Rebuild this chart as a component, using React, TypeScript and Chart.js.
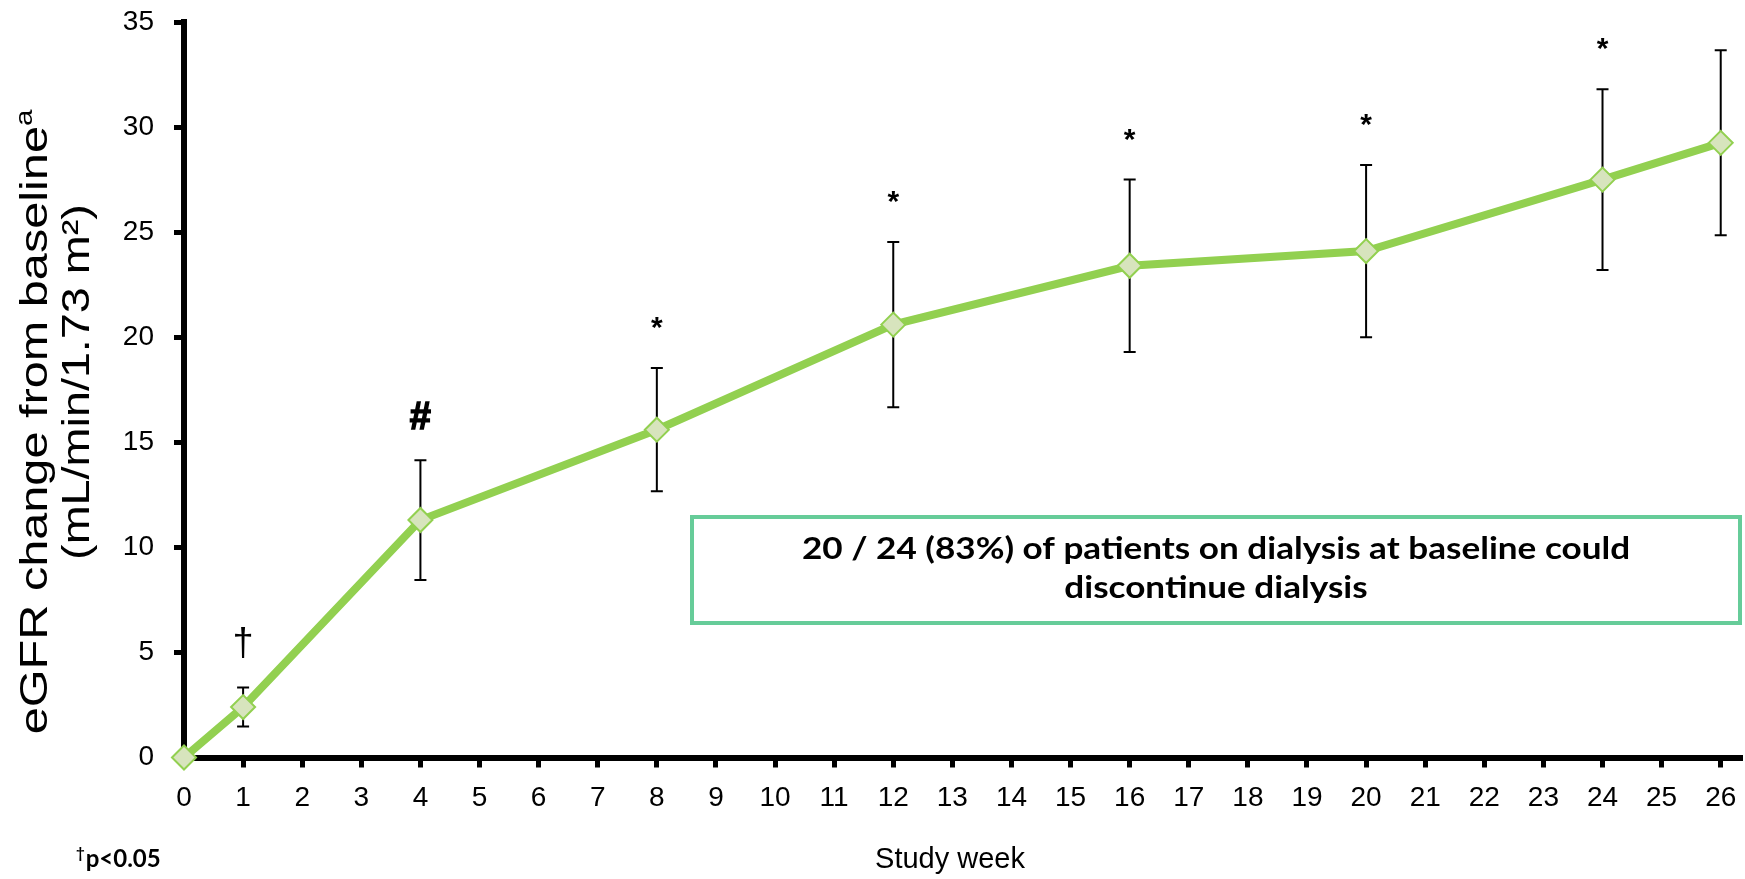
import React, { useEffect, useRef } from 'react';
import { Chart, registerables } from 'chart.js';

Chart.register(...registerables);

// ---- Data ----
const weeks = [0, 1, 4, 8, 12, 16, 20, 24, 26];
const egfrChange = [0, 2.4, 11.3, 15.6, 20.6, 23.4, 24.1, 27.5, 29.25];
const errorSD = [0, 0.93, 2.85, 2.93, 3.93, 4.1, 4.1, 4.3, 4.4];
const significance = ['', '†', '#', '*', '*', '*', '*', '*', ''];
const xTickValues = [0, 1, 2, 3, 4, 5, 6, 7, 8, 9, 10, 11, 12, 13, 14, 15, 16, 17, 18, 19, 20, 21, 22, 23, 24, 25, 26];
const yTickValues = [0, 5, 10, 15, 20, 25, 30, 35];
const yTitleLine1 = 'eGFR change from baseline';
const yTitleSup = 'a';
const yTitleLine2 = '(mL/min/1.73 m²)';
const xTitle = 'Study week';
const footnoteMark = '†';
const footnoteText = 'p<0.05';
const boxLines = ['20 / 24 (83%) of patients on dialysis at baseline could', 'discontinue dialysis'];

const SANS = '"Liberation Sans", Arial, sans-serif';
const HUMAN = 'Lato, "Open Sans", sans-serif';

const overlayPlugin = {
  id: 'overlay',
  beforeDatasetsDraw(chart: any) {
    const { ctx, scales } = chart;
    const xs = scales.x;
    const ys = scales.y;
    ctx.save();
    ctx.strokeStyle = '#000';
    ctx.lineWidth = 2;
    weeks.forEach((w, i) => {
      const e = errorSD[i];
      if (!e) return;
      const px = xs.getPixelForValue(w);
      const top = ys.getPixelForValue(egfrChange[i] + e);
      const bot = ys.getPixelForValue(egfrChange[i] - e);
      ctx.beginPath();
      ctx.moveTo(px, top);
      ctx.lineTo(px, bot);
      ctx.moveTo(px - 6, top);
      ctx.lineTo(px + 6, top);
      ctx.moveTo(px - 6, bot);
      ctx.lineTo(px + 6, bot);
      ctx.stroke();
    });
    ctx.restore();
  },
  afterDraw(chart: any) {
    const { ctx, scales } = chart;
    const xs = scales.x;
    const ys = scales.y;
    ctx.save();
    // significance symbols
    weeks.forEach((w, i) => {
      const s = significance[i];
      if (!s) return;
      let font = `bold 30px ${SANS}`;
      if (s === '†') font = `38px ${SANS}`;
      if (s === '#') font = `bold 38px ${SANS}`;
      ctx.font = font;
      ctx.fillStyle = '#000';
      ctx.strokeStyle = '#000';
      ctx.textAlign = 'center';
      ctx.textBaseline = 'alphabetic';
      const m = ctx.measureText(s);
      const target = ys.getPixelForValue(egfrChange[i] + errorSD[i]) - 45;
      const by = target + (m.actualBoundingBoxAscent - m.actualBoundingBoxDescent) / 2;
      const px = xs.getPixelForValue(w);
      ctx.fillText(s, px, by);
      if (s === '#') {
        ctx.lineWidth = 1.5;
        ctx.strokeText(s, px, by);
      }
    });

    // y-axis title (two lines, rotated)
    ctx.fillStyle = '#000';
    ctx.textBaseline = 'middle';
    ctx.textAlign = 'left';
    // line 1
    ctx.save();
    ctx.translate(37, 422);
    ctx.rotate(-Math.PI / 2);
    ctx.scale(1.28, 1);
    ctx.font = `38px ${SANS}`;
    const w1 = ctx.measureText(yTitleLine1).width;
    ctx.font = `23px ${SANS}`;
    const ws = ctx.measureText(yTitleSup).width;
    const start1 = -(w1 + ws) / 2;
    ctx.font = `38px ${SANS}`;
    ctx.fillText(yTitleLine1, start1, 0);
    ctx.font = `23px ${SANS}`;
    ctx.fillText(yTitleSup, start1 + w1, -11);
    ctx.restore();
    // line 2
    ctx.save();
    ctx.translate(79, 382);
    ctx.rotate(-Math.PI / 2);
    ctx.scale(1.23, 1);
    ctx.font = `38px ${SANS}`;
    ctx.textAlign = 'center';
    ctx.fillText(yTitleLine2, 0, 0);
    ctx.restore();

    // x-axis title
    ctx.font = `29px ${SANS}`;
    ctx.textAlign = 'center';
    ctx.textBaseline = 'middle';
    ctx.fillText(xTitle, 950, 860);

    // footnote
    ctx.textAlign = 'left';
    ctx.textBaseline = 'alphabetic';
    ctx.font = `bold 15px ${HUMAN}`;
    ctx.fillText(footnoteMark, 76, 858);
    const wm = ctx.measureText(footnoteMark).width;
    ctx.font = `bold 24px ${HUMAN}`;
    ctx.fillText(footnoteText, 76 + wm + 1, 867);

    // annotation box
    const bx = 690, by = 515, bw = 1052, bh = 110;
    ctx.fillStyle = '#fff';
    ctx.fillRect(bx, by, bw, bh);
    ctx.strokeStyle = '#66CC99';
    ctx.lineWidth = 4;
    ctx.strokeRect(bx + 2, by + 2, bw - 4, bh - 4);
    ctx.fillStyle = '#000';
    ctx.textAlign = 'center';
    ctx.textBaseline = 'middle';
    ctx.font = `bold 30px ${HUMAN}`;
    [549, 588].forEach((ly, k) => {
      ctx.save();
      ctx.translate(bx + bw / 2, ly);
      ctx.scale(1.17, 1);
      ctx.fillText(boxLines[k], 0, 0);
      ctx.restore();
    });
    ctx.restore();
  },
};

export default function App() {
  const ref = useRef<HTMLCanvasElement>(null);
  useEffect(() => {
    if (!ref.current) return;
    const chart = new Chart(ref.current, {
      type: 'line',
      data: {
        datasets: [
          {
            data: weeks.map((w, i) => ({ x: w, y: egfrChange[i] })),
            borderColor: '#92D050',
            borderWidth: 8,
            pointStyle: 'rectRot',
            pointRadius: 12,
            pointBackgroundColor: '#D7E4BD',
            pointBorderColor: '#92D050',
            pointBorderWidth: 2,
            tension: 0,
            clip: false,
          } as any,
        ],
      },
      options: {
        animation: false,
        responsive: true,
        maintainAspectRatio: false,
        layout: { autoPadding: false, padding: { top: 22, right: 3, left: 0, bottom: 0 } },
        plugins: { legend: { display: false }, tooltip: { enabled: false } },
        scales: {
          x: {
            type: 'linear',
            min: 0,
            max: 26.36,
            afterBuildTicks: (s: any) => {
              s.ticks = xTickValues.map((v) => ({ value: v }));
            },
            afterFit: (s: any) => {
              s.height = 121.5;
              s.paddingLeft = 0;
              s.paddingRight = 0;
            },
            ticks: {
              autoSkip: false,
              maxRotation: 0,
              color: '#000',
              padding: 14,
              font: { family: SANS, size: 28 },
            },
            grid: { drawOnChartArea: false, drawTicks: true, tickLength: 10, tickWidth: 5, tickColor: '#000' },
            border: { display: true, color: '#000', width: 6 },
          },
          y: {
            type: 'linear',
            min: 0,
            max: 35,
            afterBuildTicks: (s: any) => {
              s.ticks = yTickValues.map((v) => ({ value: v }));
            },
            afterFit: (s: any) => {
              s.width = 184;
              s.paddingTop = 0;
              s.paddingBottom = 0;
            },
            ticks: {
              color: '#000',
              padding: 20,
              font: { family: SANS, size: 28 },
            },
            grid: { drawOnChartArea: false, drawTicks: true, tickLength: 10, tickWidth: 5, tickColor: '#000' },
            border: { display: true, color: '#000', width: 6 },
          },
        },
      },
      plugins: [overlayPlugin],
    } as any);
    return () => chart.destroy();
  }, []);
  return (
    <div style={{ position: 'fixed', left: 0, top: 0, width: 1745, height: 879, background: '#fff' }}>
      <canvas ref={ref} />
    </div>
  );
}
